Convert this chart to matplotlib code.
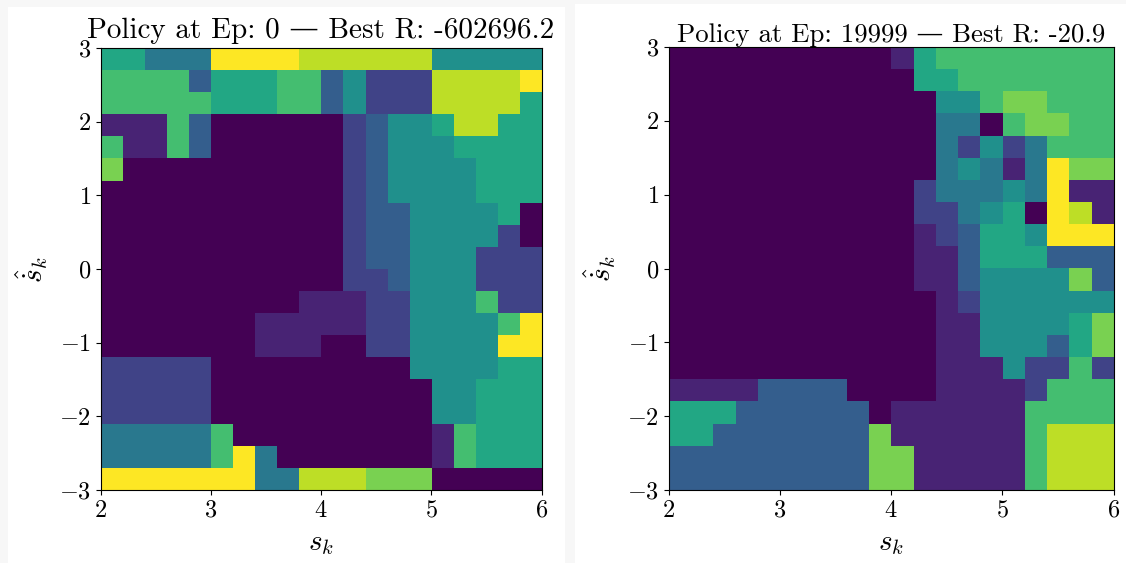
import matplotlib
matplotlib.use('Agg')
import matplotlib.pyplot as plt
import numpy as np
from matplotlib.patches import Rectangle

plt.rcParams['font.family'] = ['cmr10', 'DejaVu Serif']
plt.rcParams['mathtext.fontset'] = 'cm'
plt.rcParams['axes.formatter.use_mathtext'] = True

# policy action index per cell, rows from s_dot=+3 (top) down to -3, columns s=2..6
policy_ep0 = [
    [6, 6, 4, 4, 4, 10, 10, 10, 10, 9, 9, 9, 9, 9, 9, 5, 5, 5, 5, 5],
    [7, 7, 7, 7, 3, 6, 6, 6, 7, 7, 3, 5, 2, 2, 2, 9, 9, 9, 9, 10],
    [7, 7, 7, 7, 7, 6, 6, 6, 7, 7, 3, 5, 2, 2, 2, 9, 9, 9, 9, 6],
    [1, 1, 1, 7, 3, 0, 0, 0, 0, 0, 0, 2, 3, 5, 5, 6, 9, 9, 6, 6],
    [7, 1, 1, 7, 3, 0, 0, 0, 0, 0, 0, 2, 3, 5, 5, 5, 6, 6, 6, 6],
    [8, 0, 0, 0, 0, 0, 0, 0, 0, 0, 0, 2, 3, 5, 5, 5, 5, 6, 6, 6],
    [0, 0, 0, 0, 0, 0, 0, 0, 0, 0, 0, 2, 3, 5, 5, 5, 5, 6, 6, 6],
    [0, 0, 0, 0, 0, 0, 0, 0, 0, 0, 0, 2, 3, 3, 5, 5, 5, 5, 6, 0],
    [0, 0, 0, 0, 0, 0, 0, 0, 0, 0, 0, 2, 3, 3, 5, 5, 5, 5, 2, 0],
    [0, 0, 0, 0, 0, 0, 0, 0, 0, 0, 0, 2, 3, 3, 5, 5, 5, 2, 2, 2],
    [0, 0, 0, 0, 0, 0, 0, 0, 0, 0, 0, 2, 2, 3, 5, 5, 5, 2, 2, 2],
    [0, 0, 0, 0, 0, 0, 0, 0, 0, 1, 1, 1, 2, 2, 5, 5, 5, 7, 2, 2],
    [0, 0, 0, 0, 0, 0, 0, 1, 1, 1, 1, 1, 2, 2, 5, 5, 5, 5, 7, 10],
    [0, 0, 0, 0, 0, 0, 0, 1, 1, 1, 0, 0, 2, 2, 5, 5, 5, 5, 10, 10],
    [2, 2, 2, 2, 2, 0, 0, 0, 0, 0, 0, 0, 0, 0, 5, 5, 5, 5, 6, 6],
    [2, 2, 2, 2, 2, 0, 0, 0, 0, 0, 0, 0, 0, 0, 0, 5, 5, 6, 6, 6],
    [2, 2, 2, 2, 2, 0, 0, 0, 0, 0, 0, 0, 0, 0, 0, 5, 5, 6, 6, 6],
    [4, 4, 4, 4, 4, 7, 0, 0, 0, 0, 0, 0, 0, 0, 0, 1, 7, 6, 6, 6],
    [4, 4, 4, 4, 4, 7, 10, 4, 0, 0, 0, 0, 0, 0, 0, 1, 7, 6, 6, 6],
    [10, 10, 10, 10, 10, 10, 10, 4, 4, 9, 9, 9, 8, 8, 8, 0, 0, 0, 0, 0],
]

policy_ep19999 = [
    [0, 0, 0, 0, 0, 0, 0, 0, 0, 0, 1, 6, 7, 7, 7, 7, 7, 7, 7, 7],
    [0, 0, 0, 0, 0, 0, 0, 0, 0, 0, 0, 6, 6, 7, 7, 7, 7, 7, 7, 7],
    [0, 0, 0, 0, 0, 0, 0, 0, 0, 0, 0, 0, 5, 5, 7, 8, 8, 7, 7, 7],
    [0, 0, 0, 0, 0, 0, 0, 0, 0, 0, 0, 0, 4, 4, 0, 7, 8, 8, 7, 7],
    [0, 0, 0, 0, 0, 0, 0, 0, 0, 0, 0, 0, 4, 2, 5, 2, 4, 7, 7, 7],
    [0, 0, 0, 0, 0, 0, 0, 0, 0, 0, 0, 0, 4, 5, 4, 1, 4, 10, 8, 8],
    [0, 0, 0, 0, 0, 0, 0, 0, 0, 0, 0, 2, 4, 4, 4, 5, 4, 10, 1, 1],
    [0, 0, 0, 0, 0, 0, 0, 0, 0, 0, 0, 2, 2, 4, 5, 6, 0, 10, 9, 1],
    [0, 0, 0, 0, 0, 0, 0, 0, 0, 0, 0, 1, 2, 3, 6, 6, 5, 10, 10, 10],
    [0, 0, 0, 0, 0, 0, 0, 0, 0, 0, 0, 1, 1, 3, 6, 6, 6, 3, 3, 3],
    [0, 0, 0, 0, 0, 0, 0, 0, 0, 0, 0, 1, 1, 3, 5, 5, 5, 5, 8, 3],
    [0, 0, 0, 0, 0, 0, 0, 0, 0, 0, 0, 0, 1, 2, 5, 5, 5, 5, 5, 5],
    [0, 0, 0, 0, 0, 0, 0, 0, 0, 0, 0, 0, 1, 1, 5, 5, 5, 5, 6, 8],
    [0, 0, 0, 0, 0, 0, 0, 0, 0, 0, 0, 0, 1, 1, 5, 5, 5, 3, 6, 8],
    [0, 0, 0, 0, 0, 0, 0, 0, 0, 0, 0, 0, 1, 1, 1, 5, 2, 2, 7, 2],
    [1, 1, 1, 1, 3, 3, 3, 3, 0, 0, 0, 0, 1, 1, 1, 1, 2, 7, 7, 7],
    [6, 6, 6, 3, 3, 3, 3, 3, 3, 0, 1, 1, 1, 1, 1, 1, 7, 7, 7, 7],
    [6, 6, 3, 3, 3, 3, 3, 3, 3, 8, 1, 1, 1, 1, 1, 1, 7, 9, 9, 9],
    [3, 3, 3, 3, 3, 3, 3, 3, 3, 8, 8, 1, 1, 1, 1, 1, 7, 9, 9, 9],
    [3, 3, 3, 3, 3, 3, 3, 3, 3, 8, 8, 1, 1, 1, 1, 1, 7, 9, 9, 9],
]

titles = ['Policy at Ep: 0 — Best R: -602696.2', 'Policy at Ep: 19999 — Best R: -20.9']
s_range = [2, 6]
sdot_range = [-3, 3]
n_actions = 11

W, H = 1126, 563
fig = plt.figure(figsize=(W / 100, H / 100), dpi=100, facecolor='#f7f7f7')

# white backgrounds of the two panels (behind the axes)
fig.patches.append(Rectangle((8 / W, 0), (565 - 8) / W, (H - 7) / H,
                             transform=fig.transFigure, facecolor='white', edgecolor='none', zorder=-10))
fig.patches.append(Rectangle((575 / W, 0), (W - 575) / W, (H - 4) / H,
                             transform=fig.transFigure, facecolor='white', edgecolor='none', zorder=-10))

ax_boxes = [(100.5, 48, 441, 442), (668.5, 47, 445, 443)]
title_sizes = [21, 19.3]
title_pads = [7, 1]

for grid, title, box, tsize, tpad in zip([policy_ep0, policy_ep19999], titles, ax_boxes,
                                         title_sizes, title_pads):
    x0, y0, w, h = box
    ax = fig.add_axes([x0 / W, 1 - (y0 + h) / H, w / W, h / H])
    ax.imshow(np.array(grid), cmap='viridis', vmin=0, vmax=n_actions - 1, aspect='auto',
              extent=[s_range[0], s_range[1], sdot_range[0], sdot_range[1]], origin='upper',
              interpolation='nearest')
    ax.set_xticks([2, 3, 4, 5, 6])
    ax.set_yticks([-3, -2, -1, 0, 1, 2, 3])
    ax.tick_params(labelsize=17.5)
    ax.set_xlabel(r'$s_k$', fontsize=21, labelpad=6)
    ax.set_ylabel(r'$\hat{\dot{s}}_k$', fontsize=21, labelpad=6)
    ax.set_title(title, fontsize=tsize, pad=tpad)

plt.savefig('out.png', dpi=100, facecolor=fig.get_facecolor())
